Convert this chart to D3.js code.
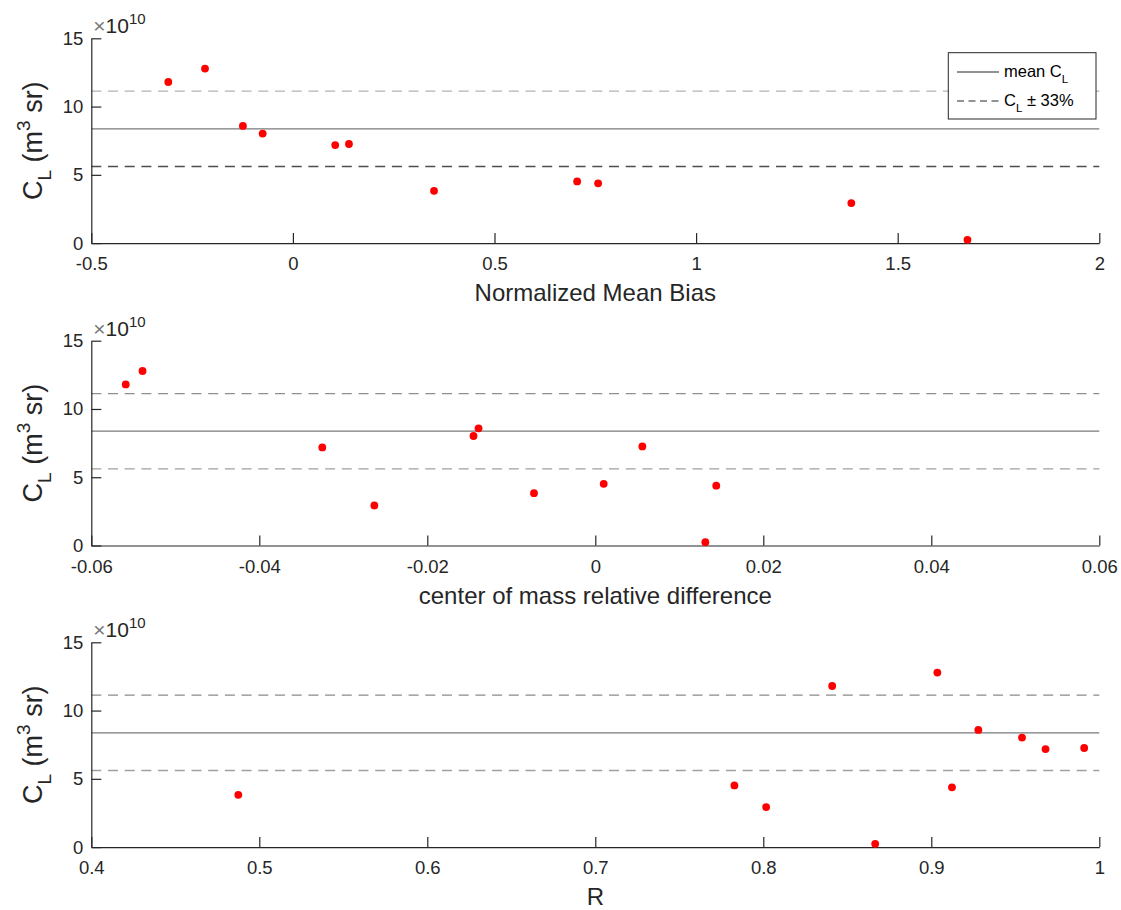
<!DOCTYPE html>
<html>
<head>
<meta charset="utf-8">
<script src="https://cdn.jsdelivr.net/npm/d3@7"></script>
<style>
  html, body { margin: 0; padding: 0; background: #fff; }
  svg { display: block; font-family: "Liberation Sans", Arial, Helvetica, sans-serif; }
</style>
</head>
<body>
<svg id="chart" width="1121" height="910"></svg>
<script>
// ---------- data (C_L in units of 1e10 m^3 sr) ----------
const clValues  = [11.80, 12.78, 8.58, 8.02, 7.18, 7.26, 3.83, 4.52, 4.38, 2.93, 0.24];
const nmbValues = [-0.309, -0.218, -0.124, -0.075, 0.105, 0.139, 0.350, 0.705, 0.757, 1.385, 1.673];
const comValues = [-0.0559, -0.0539, -0.0139, -0.0145, -0.0325, 0.0056, -0.0073, 0.0010, 0.0144, -0.0263, 0.0131];
const rValues   = [0.841, 0.9036, 0.928, 0.954, 0.968, 0.991, 0.4875, 0.7828, 0.9123, 0.8017, 0.8666];

const meanCL  = 8.37;
const upperCL = 11.13;   // mean + 33%
const lowerCL = 5.61;    // mean - 33%

const yTicks   = [0, 5, 10, 15];
const xTicks1  = [-0.5, 0, 0.5, 1, 1.5, 2];
const xTicks2  = [-0.06, -0.04, -0.02, 0, 0.02, 0.04, 0.06];
const xTicks3  = [0.4, 0.5, 0.6, 0.7, 0.8, 0.9, 1];
const xLabels  = ["Normalized Mean Bias", "center of mass relative difference", "R"];

// ---------- layout ----------
const svg = d3.select("#chart");
const left = 91.3, right = 1099.3;
const tops = [38.3, 340.7, 642.3];
const ph = 204.8;
const axisColor = "#262626";

const panels = [
  { xs: nmbValues, ticks: xTicks1, domain: [-0.5, 2], label: xLabels[0], legend: true,
    upperColor: "#b3b3b3", lowerColor: "#4d4d4d" },
  { xs: comValues, ticks: xTicks2, domain: [-0.06, 0.06], label: xLabels[1], legend: false,
    upperColor: "#8f8f8f", lowerColor: "#a0a0a0" },
  { xs: rValues, ticks: xTicks3, domain: [0.4, 1], label: xLabels[2], legend: false,
    upperColor: "#8a8a8a", lowerColor: "#a0a0a0" }
];

panels.forEach((p, i) => {
  const top = tops[i];
  const x = d3.scaleLinear().domain(p.domain).range([left, right]);
  const y = d3.scaleLinear().domain([0, 15]).range([top + ph, top]);
  const g = svg.append("g");

  // reference lines
  g.append("line").attr("x1", x(p.domain[0])).attr("x2", x(p.domain[1]))
    .attr("y1", y(upperCL)).attr("y2", y(upperCL))
    .attr("stroke", p.upperColor).attr("stroke-width", 1.3).attr("stroke-dasharray", "10,6.7");
  g.append("line").attr("x1", x(p.domain[0])).attr("x2", x(p.domain[1]))
    .attr("y1", y(lowerCL)).attr("y2", y(lowerCL))
    .attr("stroke", p.lowerColor).attr("stroke-width", 1.3).attr("stroke-dasharray", "10,6.7");
  g.append("line").attr("x1", x(p.domain[0])).attr("x2", x(p.domain[1]))
    .attr("y1", y(meanCL)).attr("y2", y(meanCL))
    .attr("stroke", "#7a7a7a").attr("stroke-width", 1.3);

  // axes
  const xa = g.append("g").attr("transform", `translate(0,${top + ph})`)
    .call(d3.axisBottom(x).tickValues(p.ticks).tickFormat(d => String(d))
      .tickSizeInner(-10).tickSizeOuter(0).tickPadding(14));
  const ya = g.append("g").attr("transform", `translate(${left},0)`)
    .call(d3.axisLeft(y).tickValues(yTicks).tickFormat(d => String(d))
      .tickSizeInner(-10).tickSizeOuter(0).tickPadding(8));
  [xa, ya].forEach(a => {
    a.attr("font-family", null).attr("font-size", null);
    a.selectAll("path.domain").attr("stroke", axisColor).attr("stroke-width", 1.2);
    a.selectAll(".tick line").attr("stroke", axisColor).attr("stroke-width", 1.2);
    a.selectAll(".tick text").attr("fill", axisColor).attr("font-size", 18.5);
  });

  // points
  g.selectAll("circle").data(p.xs.map((v, k) => [v, clValues[k]])).join("circle")
    .attr("cx", d => x(d[0])).attr("cy", d => y(d[1])).attr("r", 3.9)
    .attr("fill", "#ff0000");

  // exponent label
  const ex = g.append("text").attr("x", left + 2).attr("y", top - 5)
    .attr("fill", axisColor).attr("font-size", 21);
  ex.append("tspan").text("\u00d7").attr("fill", "#777");
  ex.append("tspan").text("10");
  ex.append("tspan").text("10").attr("font-size", 15).attr("dy", -9);

  // x label
  g.append("text").attr("x", (left + right) / 2).attr("y", top + ph + 58)
    .attr("text-anchor", "middle").attr("fill", axisColor).attr("font-size", 24)
    .text(p.label);

  // y label
  const yl = g.append("text")
    .attr("transform", `translate(41.5,${top + ph / 2}) rotate(-90)`)
    .attr("text-anchor", "middle").attr("fill", axisColor).attr("font-size", 27);
  yl.append("tspan").text("C");
  yl.append("tspan").text("L").attr("font-size", 19).attr("dy", 9);
  yl.append("tspan").text(" (m").attr("dy", -9);
  yl.append("tspan").text("3").attr("font-size", 19).attr("dy", -12);
  yl.append("tspan").text(" sr)").attr("dy", 12);

  // legend
  if (p.legend) {
    const lg = g.append("g");
    lg.append("rect").attr("x", 948.3).attr("y", 52.7).attr("width", 147.7).attr("height", 66.3)
      .attr("fill", "#fff").attr("stroke", axisColor).attr("stroke-width", 1);
    lg.append("line").attr("x1", 957).attr("x2", 999).attr("y1", 72).attr("y2", 72)
      .attr("stroke", "#262626").attr("stroke-width", 1);
    lg.append("line").attr("x1", 957).attr("x2", 999).attr("y1", 101).attr("y2", 101)
      .attr("stroke", "#262626").attr("stroke-width", 1).attr("stroke-dasharray", "7,4.5");
    const t1 = lg.append("text").attr("x", 1004).attr("y", 77).attr("font-size", 16.5).attr("fill", "#000");
    t1.append("tspan").text("mean C");
    t1.append("tspan").text("L").attr("font-size", 11.5).attr("dy", 6);
    const t2 = lg.append("text").attr("x", 1004).attr("y", 106).attr("font-size", 16.5).attr("fill", "#000");
    t2.append("tspan").text("C");
    t2.append("tspan").text("L").attr("font-size", 11.5).attr("dy", 6);
    t2.append("tspan").text(" \u00b1 33%").attr("dy", -6);
  }
});
</script>
</body>
</html>
